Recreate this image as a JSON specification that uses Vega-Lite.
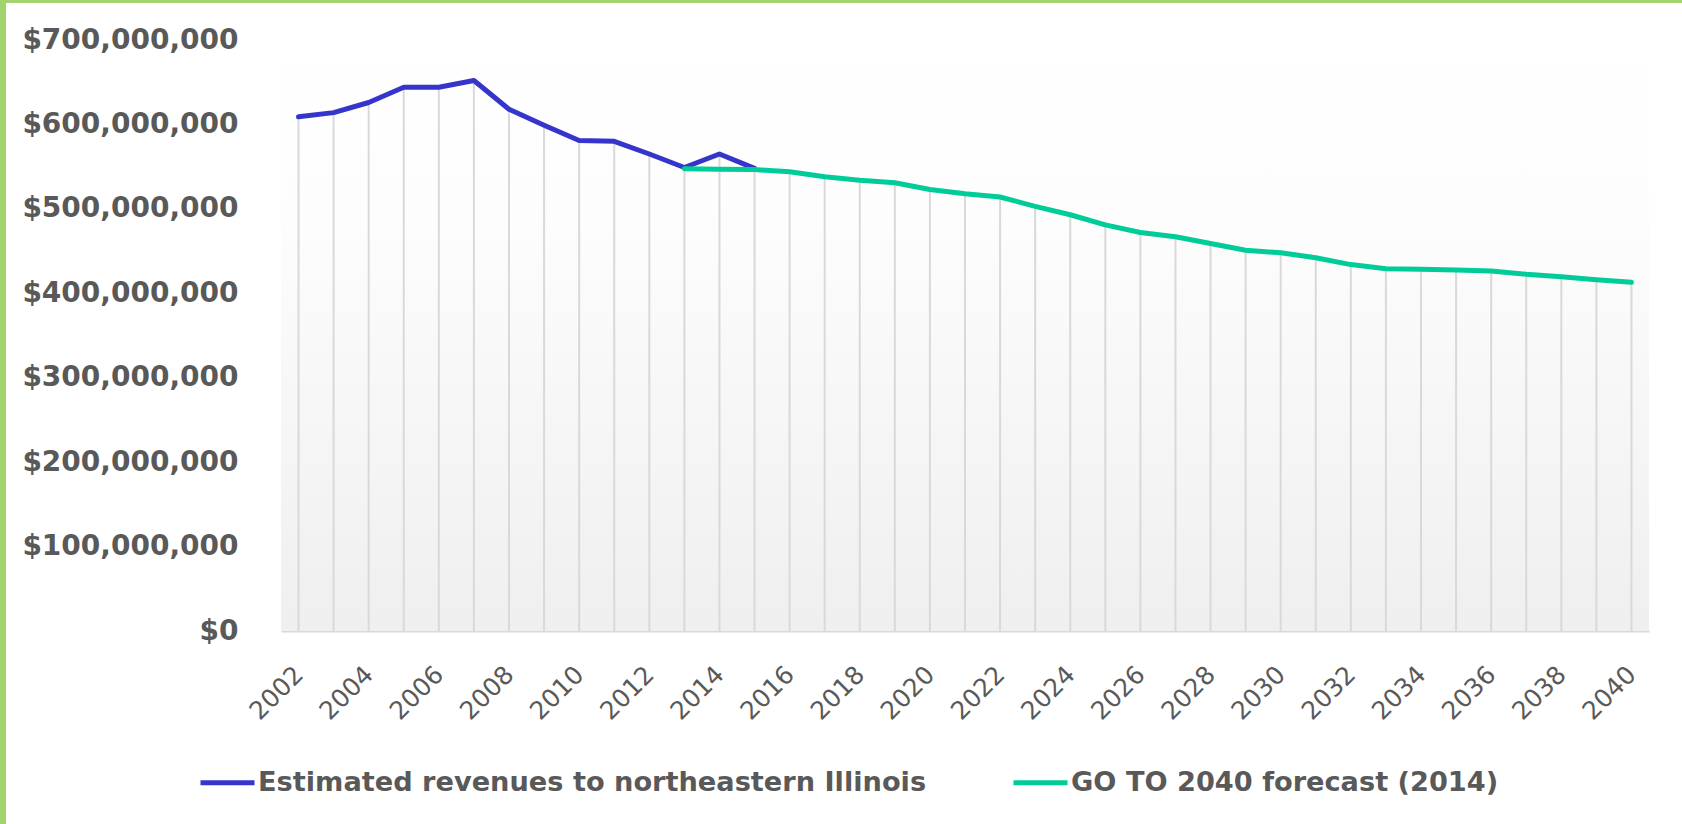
{
  "$schema": "https://vega.github.io/schema/vega-lite/v6.json",
  "padding": 0,
  "background": "#ffffff",
  "config": {"view": {"stroke": null}},
  "datasets": {
    "rev": [
      {"year": 2002, "series": "Estimated revenues to northeastern Illinois", "value": 609000000},
      {"year": 2003, "series": "Estimated revenues to northeastern Illinois", "value": 614000000},
      {"year": 2004, "series": "Estimated revenues to northeastern Illinois", "value": 626000000},
      {"year": 2005, "series": "Estimated revenues to northeastern Illinois", "value": 644000000},
      {"year": 2006, "series": "Estimated revenues to northeastern Illinois", "value": 644000000},
      {"year": 2007, "series": "Estimated revenues to northeastern Illinois", "value": 652000000},
      {"year": 2008, "series": "Estimated revenues to northeastern Illinois", "value": 618000000},
      {"year": 2009, "series": "Estimated revenues to northeastern Illinois", "value": 599000000},
      {"year": 2010, "series": "Estimated revenues to northeastern Illinois", "value": 581000000},
      {"year": 2011, "series": "Estimated revenues to northeastern Illinois", "value": 580000000},
      {"year": 2012, "series": "Estimated revenues to northeastern Illinois", "value": 565000000},
      {"year": 2013, "series": "Estimated revenues to northeastern Illinois", "value": 549000000},
      {"year": 2014, "series": "Estimated revenues to northeastern Illinois", "value": 565000000},
      {"year": 2015, "series": "Estimated revenues to northeastern Illinois", "value": 548000000},
      {"year": 2013, "series": "GO TO 2040 forecast (2014)", "value": 547500000},
      {"year": 2014, "series": "GO TO 2040 forecast (2014)", "value": 547000000},
      {"year": 2015, "series": "GO TO 2040 forecast (2014)", "value": 546500000},
      {"year": 2016, "series": "GO TO 2040 forecast (2014)", "value": 544000000},
      {"year": 2017, "series": "GO TO 2040 forecast (2014)", "value": 538000000},
      {"year": 2018, "series": "GO TO 2040 forecast (2014)", "value": 534000000},
      {"year": 2019, "series": "GO TO 2040 forecast (2014)", "value": 531000000},
      {"year": 2020, "series": "GO TO 2040 forecast (2014)", "value": 523000000},
      {"year": 2021, "series": "GO TO 2040 forecast (2014)", "value": 518000000},
      {"year": 2022, "series": "GO TO 2040 forecast (2014)", "value": 514000000},
      {"year": 2023, "series": "GO TO 2040 forecast (2014)", "value": 503000000},
      {"year": 2024, "series": "GO TO 2040 forecast (2014)", "value": 493000000},
      {"year": 2025, "series": "GO TO 2040 forecast (2014)", "value": 481000000},
      {"year": 2026, "series": "GO TO 2040 forecast (2014)", "value": 472000000},
      {"year": 2027, "series": "GO TO 2040 forecast (2014)", "value": 467000000},
      {"year": 2028, "series": "GO TO 2040 forecast (2014)", "value": 459000000},
      {"year": 2029, "series": "GO TO 2040 forecast (2014)", "value": 451000000},
      {"year": 2030, "series": "GO TO 2040 forecast (2014)", "value": 448000000},
      {"year": 2031, "series": "GO TO 2040 forecast (2014)", "value": 442000000},
      {"year": 2032, "series": "GO TO 2040 forecast (2014)", "value": 434000000},
      {"year": 2033, "series": "GO TO 2040 forecast (2014)", "value": 429000000},
      {"year": 2034, "series": "GO TO 2040 forecast (2014)", "value": 428500000},
      {"year": 2035, "series": "GO TO 2040 forecast (2014)", "value": 427500000},
      {"year": 2036, "series": "GO TO 2040 forecast (2014)", "value": 426500000},
      {"year": 2037, "series": "GO TO 2040 forecast (2014)", "value": 422500000},
      {"year": 2038, "series": "GO TO 2040 forecast (2014)", "value": 419500000},
      {"year": 2039, "series": "GO TO 2040 forecast (2014)", "value": 416000000},
      {"year": 2040, "series": "GO TO 2040 forecast (2014)", "value": 413000000}
    ]
  },
  "spacing": 0,
  "vconcat": [
    {
      "width": 1682,
      "height": 3,
      "view": {"fill": "#a3d36f", "stroke": null},
      "data": {"values": [{}]},
      "mark": {"type": "rect", "color": "#a3d36f"},
      "encoding": {}
    },
    {
      "spacing": 0,
      "hconcat": [
        {
          "width": 6,
          "height": 821,
          "view": {"fill": "#a3d36f", "stroke": null},
          "data": {"values": [{}]},
          "mark": {"type": "rect", "color": "#a3d36f"},
          "encoding": {}
        },
        {
          "spacing": 22,
          "vconcat": [
            {
              "width": 1,
              "height": 1,
              "data": {"values": [{}]},
              "mark": {"type": "rect", "opacity": 0},
              "encoding": {}
            },
            {
              "width": 1368,
              "height": 591,
              "data": {"name": "rev"},
              "layer": [
                {
                  "data": {"values": [{}]},
                  "mark": {
                    "type": "rect",
                    "color": {
                      "gradient": "linear",
                      "x1": 0, "y1": 0, "x2": 0, "y2": 1,
                      "stops": [
                        {"offset": 0, "color": "#ffffff"},
                        {"offset": 0.3, "color": "#fdfdfd"},
                        {"offset": 1, "color": "#efefef"}
                      ]
                    }
                  },
                  "encoding": {
                    "x": {"datum": 2001.5, "type": "quantitative"},
                    "x2": {"datum": 2040.5},
                    "y": {"datum": 0, "type": "quantitative"},
                    "y2": {"datum": 700000000}
                  }
                },
                {
                  "mark": {"type": "rule", "color": "#d9d9d9", "strokeWidth": 2},
                  "encoding": {
                    "x": {"field": "year", "type": "quantitative"},
                    "y": {"aggregate": "max", "field": "value", "type": "quantitative"},
                    "y2": {"datum": 0}
                  }
                },
                {
                  "mark": {"type": "line", "strokeWidth": 5, "strokeCap": "round", "strokeJoin": "round"},
                  "encoding": {
                    "x": {
                      "field": "year",
                      "type": "quantitative",
                      "scale": {"domain": [2001.5, 2040.5], "nice": false, "zero": false},
                      "axis": {
                        "title": null,
                        "values": [2002, 2004, 2006, 2008, 2010, 2012, 2014, 2016, 2018, 2020, 2022, 2024, 2026, 2028, 2030, 2032, 2034, 2036, 2038, 2040],
                        "format": "d",
                        "labelAngle": -45,
                        "labelAlign": "right",
                        "labelBaseline": "middle",
                        "labelFont": "DejaVu Sans",
                        "labelFontSize": 25,
                        "labelColor": "#595959",
                        "labelPadding": 39,
                        "ticks": false,
                        "grid": false,
                        "domainColor": "#d9d9d9",
                        "domainWidth": 2,
                        "labelOverlap": false,
                        "labelBound": false,
                        "labelFlush": false
                      }
                    },
                    "y": {
                      "field": "value",
                      "type": "quantitative",
                      "scale": {"domain": [0, 700000000], "nice": false},
                      "axis": {
                        "title": null,
                        "values": [0, 100000000, 200000000, 300000000, 400000000, 500000000, 600000000, 700000000],
                        "format": "$,.0f",
                        "labelFont": "DejaVu Sans",
                        "labelFontWeight": "bold",
                        "labelFontSize": 28,
                        "labelColor": "#595959",
                        "labelPadding": 43,
                        "labelLimit": 400,
                        "minExtent": 275,
                        "maxExtent": 275,
                        "ticks": false,
                        "domain": false,
                        "grid": false
                      }
                    },
                    "color": {
                      "field": "series",
                      "type": "nominal",
                      "scale": {
                        "domain": ["Estimated revenues to northeastern Illinois", "GO TO 2040 forecast (2014)"],
                        "range": ["#3535cc", "#00cc99"]
                      },
                      "legend": {
                        "title": null,
                        "orient": "none",
                        "direction": "horizontal",
                        "legendX": 198,
                        "legendY": 753,
                        "symbolType": "stroke",
                        "symbolSize": 2916,
                        "symbolStrokeWidth": 5,
                        "labelFont": "DejaVu Sans",
                        "labelFontWeight": "bold",
                        "labelFontSize": 27.2,
                        "labelColor": "#595959",
                        "labelOffset": 1,
                        "labelLimit": 1000,
                        "columnPadding": 76
                      }
                    }
                  }
                }
              ]
            }
          ]
        }
      ]
    }
  ]
}
